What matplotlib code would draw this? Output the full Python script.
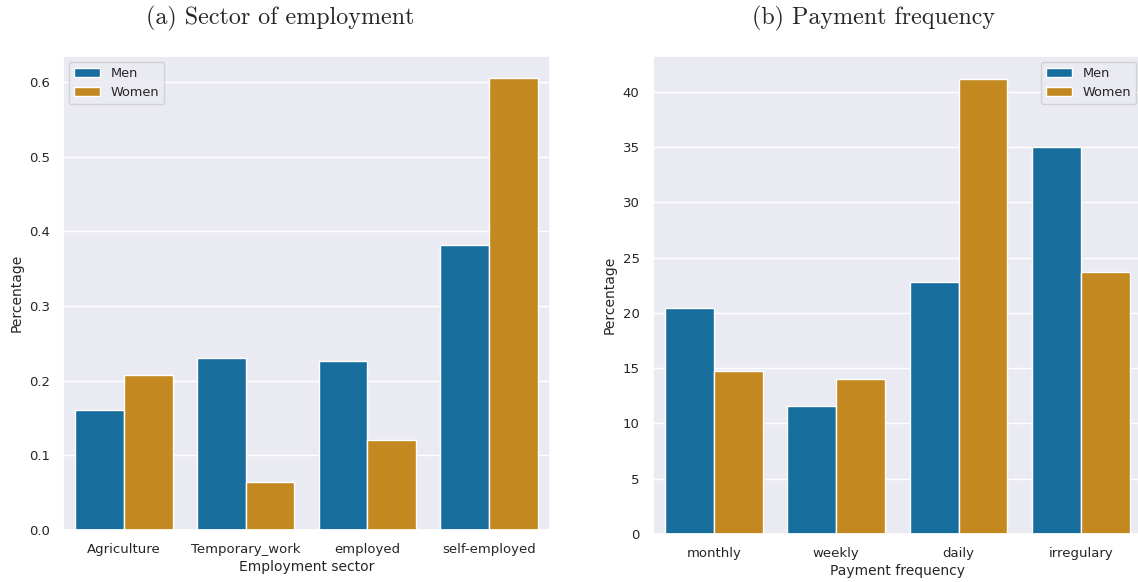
import matplotlib
matplotlib.use("Agg")
import matplotlib.pyplot as plt
import numpy as np
import seaborn as sns

# Share of workers by sector of employment
sectors = ["Agriculture", "Temporary_work", "employed", "self-employed"]
sector_men = [0.161, 0.2305, 0.2265, 0.3817]
sector_women = [0.208, 0.0638, 0.1204, 0.6054]

# Share of workers by payment frequency (%)
frequencies = ["monthly", "weekly", "daily", "irregulary"]
freq_men = [20.42, 11.53, 22.79, 34.95]
freq_women = [14.76, 14.06, 41.17, 23.66]

groups = ["Men", "Women"]

sns.set_theme(style="darkgrid")
plt.rcParams["font.family"] = ["DejaVu Sans"]

base = sns.color_palette("colorblind")
colors = [sns.desaturate(base[0], 0.75), sns.desaturate(base[1], 0.75)]

W, H = 1138, 582
fig = plt.figure(figsize=(W / 100, H / 100), dpi=100)

ax1 = fig.add_axes([63.3 / W, (H - 530) / H, (550 - 63.3) / W, (530 - 55.7) / H])
ax2 = fig.add_axes([652.7 / W, (H - 534) / H, (1142 - 652.7) / W, (534 - 55.7) / H])


def grouped_bars(ax, cats, men, women, ylim, xlabel, legend_loc):
    x = np.arange(len(cats))
    width = 0.4
    ax.bar(x - width / 2, men, width, color=colors[0], edgecolor="white",
           linewidth=1, label=groups[0], zorder=2)
    ax.bar(x + width / 2, women, width, color=colors[1], edgecolor="white",
           linewidth=1, label=groups[1], zorder=2)
    ax.set_xticks(x)
    ax.set_xticklabels(cats, fontsize=9.5)
    ax.tick_params(axis="y", labelsize=9.5)
    ax.grid(False, axis="x")
    ax.set_xlim(-0.5, len(cats) - 0.5)
    ax.set_ylim(*ylim)
    ax.set_xlabel(xlabel, fontsize=10, labelpad=3)
    ax.set_ylabel("Percentage", fontsize=10)
    ax.legend(loc=legend_loc, fontsize=9.3, borderaxespad=0.45)


grouped_bars(ax1, sectors, sector_men, sector_women, (0, 0.635),
             "Employment sector", "upper left")
grouped_bars(ax2, frequencies, freq_men, freq_women, (0, 43.25),
             "Payment frequency", "upper right")
ax2.set_yticks([0, 5, 10, 15, 20, 25, 30, 35, 40])

fig.text(280 / W, 1 - 18.5 / H, "(a) Sector of employment", family="cmr10",
         fontsize=17.3, ha="center", va="center")
fig.text(874 / W, 1 - 18.5 / H, "(b) Payment frequency", family="cmr10",
         fontsize=17.3, ha="center", va="center")

fig.savefig("out.png", dpi=100)
